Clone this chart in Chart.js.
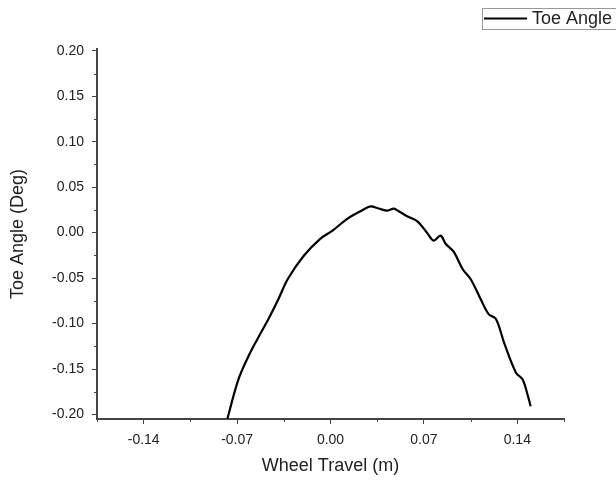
<!DOCTYPE html>
<html>
<head>
<meta charset="utf-8">
<script src="https://cdn.jsdelivr.net/npm/chart.js@4"></script>
<style>
  html, body { margin: 0; padding: 0; background: #fff; }
  #wrap { width: 616px; height: 481px; }
</style>
</head>
<body>
<div id="wrap"><canvas id="chart" width="616" height="481"></canvas></div>
<script>
// wheel travel (m) vs toe angle (deg)
const travel = [-0.0773, -0.069, -0.0615, -0.054, -0.0465, -0.039, -0.032, -0.020, -0.0075,
    0.0015, 0.0128, 0.0248, 0.030, 0.036, 0.0428, 0.0473, 0.0503, 0.0578, 0.0653,
    0.0728, 0.0773, 0.0825, 0.0863, 0.0923, 0.099, 0.105, 0.1125, 0.1185, 0.124,
    0.130, 0.139, 0.144, 0.148, 0.150];
const toeAngle = [-0.2047, -0.1615, -0.136, -0.115, -0.095, -0.073, -0.051, -0.0254, -0.0066,
    0.0022, 0.0155, 0.0254, 0.0288, 0.0265, 0.0243, 0.0265, 0.0243, 0.0177, 0.0122,
    -0.0011, -0.0088, -0.0033, -0.0122, -0.021, -0.040, -0.051, -0.073, -0.0896, -0.095,
    -0.1206, -0.154, -0.1615, -0.180, -0.191];

const xMajor = [-0.14, -0.07, 0.00, 0.07, 0.14];
const xMinor = [-0.175, -0.105, -0.035, 0.035, 0.105, 0.175];
const yMajor = [-0.20, -0.15, -0.10, -0.05, 0.00, 0.05, 0.10, 0.15, 0.20];
const yMinor = [-0.175, -0.125, -0.075, -0.025, 0.025, 0.075, 0.125, 0.175];

const ink = '#222';
const axisColor = '#444';
const font = "'Liberation Sans', Arial, sans-serif";

// minor ticks + boxed legend in the top right corner
const extras = {
    id: 'extras',
    afterDraw(chart) {
        const ctx = chart.ctx;
        const xs = chart.scales.x, ys = chart.scales.y;
        ctx.save();
        ctx.strokeStyle = axisColor;
        ctx.lineWidth = 1;
        xMinor.forEach(v => {
            const px = Math.round(xs.getPixelForValue(v)) + 0.5;
            ctx.beginPath();
            ctx.moveTo(px, xs.top);
            ctx.lineTo(px, xs.top + 3);
            ctx.stroke();
        });
        yMinor.forEach(v => {
            const py = Math.round(ys.getPixelForValue(v)) + 0.5;
            ctx.beginPath();
            ctx.moveTo(ys.right, py);
            ctx.lineTo(ys.right - 3, py);
            ctx.stroke();
        });

        const ds = chart.data.datasets[0];
        ctx.strokeStyle = '#999';
        ctx.lineWidth = 1;
        ctx.strokeRect(482.5, 8.5, 140, 21);
        ctx.strokeStyle = ds.borderColor;
        ctx.lineWidth = 2;
        ctx.beginPath();
        ctx.moveTo(484, 18.5);
        ctx.lineTo(527, 18.5);
        ctx.stroke();
        ctx.fillStyle = ink;
        ctx.font = '18px ' + font;
        ctx.textBaseline = 'middle';
        ctx.fillText(ds.label, 532, 19);
        ctx.restore();
    }
};

chartDefaults();
function chartDefaults() {
    Chart.defaults.color = ink;
    Chart.defaults.font.family = font;
    Chart.defaults.font.size = 14;
}

new Chart(document.getElementById('chart').getContext('2d'), {
    type: 'line',
    data: {
        datasets: [{
            label: 'Toe Angle',
            data: travel.map((t, i) => ({ x: t, y: toeAngle[i] })),
            borderColor: '#000',
            borderWidth: 2.2,
            pointRadius: 0,
            tension: 0.35,
            fill: false,
        }],
    },
    options: {
        responsive: false,
        animation: false,
        layout: { padding: { left: 0, top: 49, right: 52, bottom: 0 } },
        plugins: { legend: { display: false }, tooltip: { enabled: false } },
        scales: {
            x: {
                type: 'linear',
                min: -0.175,
                max: 0.175,
                afterBuildTicks: s => { s.ticks = xMajor.map(v => ({ value: v })); },
                afterFit: s => { s.height = 62; },
                ticks: { callback: v => v.toFixed(2), padding: 8, color: ink, font: { size: 14 } },
                grid: { drawOnChartArea: false, drawTicks: true, tickLength: 5, tickColor: axisColor },
                border: { color: axisColor, width: 2 },
                title: { display: true, text: 'Wheel Travel (m)', color: ink, font: { size: 18 }, padding: { top: 4, bottom: 4 } },
            },
            y: {
                type: 'linear',
                min: -0.205,
                max: 0.202,
                afterBuildTicks: s => { s.ticks = yMajor.map(v => ({ value: v })); },
                afterFit: s => { s.width = 97; },
                ticks: { callback: v => v.toFixed(2), padding: 8, color: ink, font: { size: 14 } },
                grid: { drawOnChartArea: false, drawTicks: true, tickLength: 5, tickColor: axisColor },
                border: { color: axisColor, width: 2 },
                title: { display: true, text: 'Toe Angle (Deg)', color: ink, font: { size: 18 }, padding: { top: 7, bottom: 4 } },
            },
        },
    },
    plugins: [extras],
});
</script>
</body>
</html>
